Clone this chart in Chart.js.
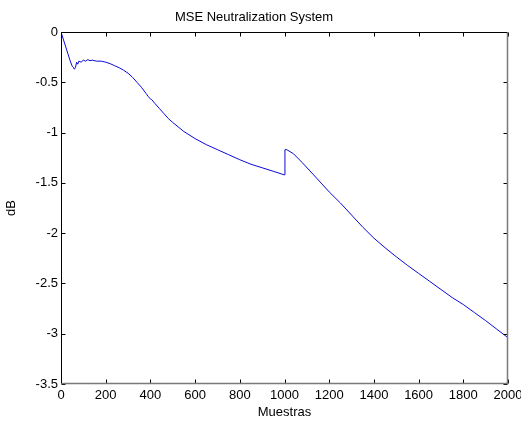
<!DOCTYPE html>
<html>
<head>
<meta charset="utf-8">
<title>MSE Neutralization System</title>
<script src="https://cdn.jsdelivr.net/npm/chart.js@4/dist/chart.umd.min.js"></script>
<style>
  html, body { margin: 0; padding: 0; background: #fff; }
  #wrap { width: 521px; height: 425px; }
</style>
</head>
<body>
<div id="wrap"><canvas id="mseChart" width="521" height="425"></canvas></div>
<script>
/* ------------------------------------------------------------
   Data (samples -> dB)
   ------------------------------------------------------------ */
const samples = [
    0, 10, 20, 30, 40, 50, 55, 60, 65, 70, 75, 80, 90, 100, 110, 120, 130, 140,
    160, 180, 200, 220, 240, 260, 280, 300, 320, 340, 360, 380, 390, 395, 400,
    405, 420, 440, 460, 480, 500, 550, 600, 650, 700, 750, 800, 850, 900, 950,
    998, 1002, 1010, 1040, 1080, 1130, 1200, 1250, 1300, 1350, 1400, 1450,
    1500, 1550, 1600, 1650, 1700, 1750, 1800, 1850, 1900, 1950, 2000
];
const mseDb = [
    0, -0.07, -0.14, -0.21, -0.28, -0.34, -0.35, -0.37, -0.35, -0.30, -0.32, -0.29,
    -0.30, -0.28, -0.29, -0.275, -0.285, -0.28,
    -0.29, -0.29, -0.30, -0.315, -0.335, -0.355, -0.38, -0.41, -0.45, -0.50, -0.55,
    -0.61, -0.64, -0.655, -0.665,
    -0.67, -0.71, -0.76, -0.81, -0.86, -0.90, -0.99, -1.06, -1.12, -1.17, -1.22,
    -1.27, -1.315, -1.35, -1.385,
    -1.42, -1.17, -1.17, -1.21, -1.30, -1.42, -1.59, -1.70, -1.82, -1.94, -2.05,
    -2.145, -2.235, -2.32, -2.40, -2.48, -2.56, -2.64, -2.71, -2.79, -2.87, -2.955,
    -3.04
];
const xTicks = [0, 200, 400, 600, 800, 1000, 1200, 1400, 1600, 1800, 2000];
const yTicks = [-3.5, -3, -2.5, -2, -1.5, -1, -0.5, 0];

const FONT = "'Liberation Sans', Arial, Helvetica, sans-serif";

/* ------------------------------------------------------------
   MATLAB-like box with inward ticks
   ------------------------------------------------------------ */
const matlabBox = {
    id: "matlabBox",
    afterDraw(chart) {
        const { ctx, chartArea: a, scales: { x, y } } = chart;
        const L = Math.round(a.left) + 0.5, R = Math.round(a.right) - 0.5;
        const T = Math.round(a.top) + 0.5, B = Math.round(a.bottom) - 0.5;
        const tl = 4;
        ctx.save();
        ctx.lineWidth = 1;
        ctx.strokeStyle = "#000";
        ctx.beginPath();
        ctx.moveTo(L, B); ctx.lineTo(L, T); ctx.lineTo(R, T);
        xTicks.forEach(v => {
            const px = Math.round(x.getPixelForValue(v)) + 0.5;
            ctx.moveTo(px, T); ctx.lineTo(px, T + tl);
            ctx.moveTo(px, B); ctx.lineTo(px, B - tl);
        });
        yTicks.forEach(v => {
            const py = Math.round(y.getPixelForValue(v)) + 0.5;
            ctx.moveTo(L, py); ctx.lineTo(L + tl, py);
            ctx.moveTo(R, py); ctx.lineTo(R - tl, py);
        });
        ctx.stroke();
        ctx.strokeStyle = "#7a7a7a";
        ctx.lineWidth = 1.5;
        ctx.beginPath();
        ctx.moveTo(L, B); ctx.lineTo(R, B); ctx.lineTo(R, T);
        ctx.stroke();
        ctx.restore();
    }
};

new Chart(document.getElementById("mseChart"), {
    type: "line",
    data: {
        datasets: [{
            data: samples.map((s, i) => ({ x: s, y: mseDb[i] })),
            borderColor: "#0a0ad8",
            borderWidth: 1,
            pointRadius: 0,
            tension: 0,
            fill: false
        }]
    },
    options: {
        responsive: false,
        devicePixelRatio: 1,
        animation: false,
        layout: { padding: { left: 0, right: 13, top: 0, bottom: 0 } },
        plugins: {
            legend: { display: false },
            tooltip: { enabled: false },
            title: {
                display: true,
                text: "MSE Neutralization System",
                color: "#000",
                font: { family: FONT, size: 13, weight: "normal" },
                padding: { top: 9.5, bottom: 6.9 }
            }
        },
        scales: {
            x: {
                type: "linear",
                min: 0,
                max: 2000,
                afterBuildTicks: s => { s.ticks = xTicks.map(v => ({ value: v })); },
                afterFit: s => { s.height = 41; s.paddingLeft = 0; s.paddingRight = 0; },
                grid: { display: false, drawTicks: false },
                border: { display: false },
                ticks: {
                    color: "#000",
                    padding: 4,
                    maxRotation: 0,
                    font: { family: FONT, size: 13 },
                    callback: v => String(v)
                },
                title: {
                    display: true,
                    text: "Muestras",
                    color: "#000",
                    font: { family: FONT, size: 13 },
                    padding: { top: 5, bottom: 5 }
                }
            },
            y: {
                min: -3.5,
                max: 0,
                afterBuildTicks: s => { s.ticks = yTicks.map(v => ({ value: v })); },
                afterFit: s => { s.width = 61; s.paddingTop = 0; s.paddingBottom = 0; },
                grid: { display: false, drawTicks: false },
                border: { display: false },
                ticks: {
                    color: "#000",
                    padding: 3,
                    font: { family: FONT, size: 13 },
                    callback: v => String(v)
                },
                title: {
                    display: true,
                    text: "dB",
                    color: "#000",
                    font: { family: FONT, size: 13 },
                    padding: { top: 4, bottom: 4 }
                }
            }
        }
    },
    plugins: [matlabBox]
});
</script>
</body>
</html>
